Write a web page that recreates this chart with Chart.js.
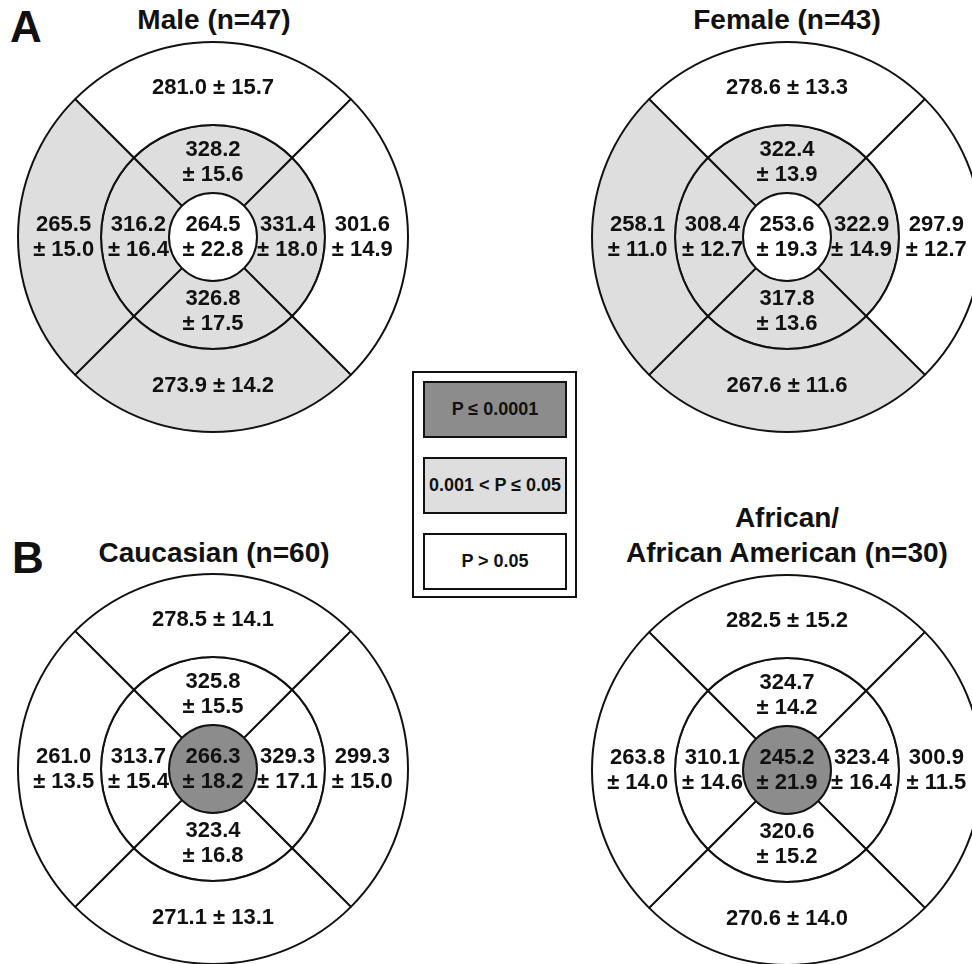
<!DOCTYPE html>
<html>
<head>
<meta charset="utf-8">
<script src="https://cdn.jsdelivr.net/npm/chart.js@4.4.1/dist/chart.umd.min.js"></script>
<style>
  html, body { margin: 0; padding: 0; background: #ffffff; overflow: hidden; }
  body { width: 972px; height: 964px; position: relative; font-family: "Liberation Sans", Arial, sans-serif; color: #111; }
  canvas { position: absolute; }
  .t { position: absolute; font-weight: bold; white-space: nowrap; transform: translateX(-50%); }
  .title { font-size: 28px; line-height: 28px; }
  .panel { position: absolute; font-weight: bold; font-size: 44px; line-height: 44px; }
  #legend { position: absolute; left: 412px; top: 371px; width: 161px; height: 223px; border: 2px solid #111; background: #fff; }
  .key { position: absolute; left: 9px; width: 140px; height: 53px; border: 2px solid #111;
         display: flex; align-items: center; justify-content: center; font-weight: bold; font-size: 18px; }
</style>
</head>
<body>

<div class="panel" style="left:10px; top:5px;">A</div>
<div class="panel" style="left:12px; top:536px;">B</div>

<div class="t title" style="left:214px; top:6px;">Male (n=47)</div>
<div class="t title" style="left:787px; top:6px;">Female (n=43)</div>
<div class="t title" style="left:214px; top:539px;">Caucasian (n=60)</div>
<div class="t title" style="left:787px; top:504px;">African/</div>
<div class="t title" style="left:787px; top:539px;">African American (n=30)</div>

<div id="legend">
  <div class="key" style="top:8px; background:#8c8c8c;">P ≤ 0.0001</div>
  <div class="key" style="top:84px; background:#dedede;">0.001 &lt; P ≤ 0.05</div>
  <div class="key" style="top:160px; background:#ffffff;">P &gt; 0.05</div>
</div>

<canvas id="male" width="400" height="400" style="left:13px; top:37px;"></canvas>
<canvas id="female" width="400" height="400" style="left:587px; top:37px;"></canvas>
<canvas id="caucasian" width="400" height="400" style="left:13px; top:569px;"></canvas>
<canvas id="african" width="400" height="400" style="left:587px; top:570px;"></canvas>

<script>
// Sector order in every ring: superior (top), right, inferior (bottom), left.
// Retinal thickness, mean and SD (µm).

// Male (n=47)
const maleOuterMean = [281.0, 301.6, 273.9, 265.5];
const maleOuterSD   = [15.7, 14.9, 14.2, 15.0];
const maleInnerMean = [328.2, 331.4, 326.8, 316.2];
const maleInnerSD   = [15.6, 18.0, 17.5, 16.4];
const maleCenterMean = [264.5];
const maleCenterSD   = [22.8];

// Female (n=43)
const femaleOuterMean = [278.6, 297.9, 267.6, 258.1];
const femaleOuterSD   = [13.3, 12.7, 11.6, 11.0];
const femaleInnerMean = [322.4, 322.9, 317.8, 308.4];
const femaleInnerSD   = [13.9, 14.9, 13.6, 12.7];
const femaleCenterMean = [253.6];
const femaleCenterSD   = [19.3];

// Caucasian (n=60)
const caucOuterMean = [278.5, 299.3, 271.1, 261.0];
const caucOuterSD   = [14.1, 15.0, 13.1, 13.5];
const caucInnerMean = [325.8, 329.3, 323.4, 313.7];
const caucInnerSD   = [15.5, 17.1, 16.8, 15.4];
const caucCenterMean = [266.3];
const caucCenterSD   = [18.2];

// African / African American (n=30)
const afrOuterMean = [282.5, 300.9, 270.6, 263.8];
const afrOuterSD   = [15.2, 11.5, 14.0, 14.0];
const afrInnerMean = [324.7, 323.4, 320.6, 310.1];
const afrInnerSD   = [14.2, 16.4, 15.2, 14.6];
const afrCenterMean = [245.2];
const afrCenterSD   = [21.9];

// Significance class of each sector: 'high' P ≤ 0.0001, 'mid' 0.001 < P ≤ 0.05, 'ns' P > 0.05
const sexOuterSig  = ['ns', 'ns', 'mid', 'mid'];
const sexInnerSig  = ['mid', 'mid', 'mid', 'mid'];
const sexCenterSig = ['ns'];
const raceOuterSig  = ['ns', 'ns', 'ns', 'ns'];
const raceInnerSig  = ['ns', 'ns', 'ns', 'ns'];
const raceCenterSig = ['high'];

const sigColor = { high: '#8c8c8c', mid: '#dedede', ns: '#ffffff' };

// Ring thickness in pixels (outer ring, inner ring, central disc)
const ringWidths = [83, 68, 44];

const fmt = v => v.toFixed(1);

// Writes "mean ± SD" in the middle of every sector
const sectorLabels = {
  id: 'sectorLabels',
  afterDatasetsDraw(chart) {
    const ctx = chart.ctx;
    ctx.save();
    ctx.fillStyle = '#111';
    ctx.font = 'bold 22px "Liberation Sans", Arial, sans-serif';
    ctx.textAlign = 'center';
    ctx.textBaseline = 'middle';
    chart.data.datasets.forEach((ds, di) => {
      const meta = chart.getDatasetMeta(di);
      meta.data.forEach((arc, i) => {
        const p = arc.getProps(['x', 'y', 'startAngle', 'endAngle', 'innerRadius', 'outerRadius'], true);
        const mid = (p.startAngle + p.endAngle) / 2;
        const r = ds.ring === 'center' ? 0 : p.innerRadius + 0.45 * (p.outerRadius - p.innerRadius);
        const cx = p.x + r * Math.cos(mid);
        const cy = p.y + r * Math.sin(mid);
        const m = fmt(ds.means[i]);
        const s = '± ' + fmt(ds.sds[i]);
        const oneLine = ds.ring === 'outer' && (i === 0 || i === 2);
        if (oneLine) {
          ctx.fillText(m + ' ' + s, cx, cy);
        } else {
          ctx.fillText(m, cx, cy - 12.5);
          ctx.fillText(s, cx, cy + 12.5);
        }
      });
    });
    ctx.restore();
  }
};

function ring(name, means, sds, sig, weight) {
  return {
    ring: name,
    means: means,
    sds: sds,
    data: means.map(() => 1),
    weight: weight,
    backgroundColor: sig.map(k => sigColor[k]),
    borderColor: '#111',
    borderWidth: name === 'center' ? 0 : 2
  };
}

function sectorMap(id, outerM, outerS, outerSig, innerM, innerS, innerSig, cM, cS, cSig) {
  return new Chart(document.getElementById(id), {
    type: 'doughnut',
    data: {
      labels: ['Superior', 'Right', 'Inferior', 'Left'],
      datasets: [
        ring('outer', outerM, outerS, outerSig, ringWidths[0]),
        ring('inner', innerM, innerS, innerSig, ringWidths[1]),
        ring('center', cM, cS, cSig, ringWidths[2])
      ]
    },
    options: {
      responsive: false,
      animation: false,
      events: [],
      rotation: -45,
      cutout: 0,
      radius: ringWidths[0] + ringWidths[1] + ringWidths[2],
      layout: { padding: 0 },
      plugins: { legend: { display: false }, tooltip: { enabled: false } }
    },
    plugins: [sectorLabels]
  });
}

sectorMap('male', maleOuterMean, maleOuterSD, sexOuterSig, maleInnerMean, maleInnerSD, sexInnerSig, maleCenterMean, maleCenterSD, sexCenterSig);
sectorMap('female', femaleOuterMean, femaleOuterSD, sexOuterSig, femaleInnerMean, femaleInnerSD, sexInnerSig, femaleCenterMean, femaleCenterSD, sexCenterSig);
sectorMap('caucasian', caucOuterMean, caucOuterSD, raceOuterSig, caucInnerMean, caucInnerSD, raceInnerSig, caucCenterMean, caucCenterSD, raceCenterSig);
sectorMap('african', afrOuterMean, afrOuterSD, raceOuterSig, afrInnerMean, afrInnerSD, raceInnerSig, afrCenterMean, afrCenterSD, raceCenterSig);
</script>
</body>
</html>
